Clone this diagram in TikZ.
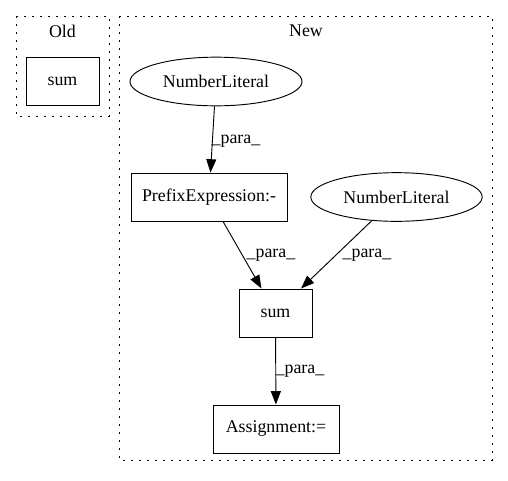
\documentclass[tikz,border=0pt]{standalone}
\usepackage{fontspec}
\setmainfont{Liberation Serif}
\usetikzlibrary{arrows.meta,shapes.geometric}
\begin{document}
\begin{tikzpicture}[x=0.75pt,y=-0.75pt,
  every node/.style={font=\fontsize{13.4pt}{15pt}\selectfont, inner sep=0pt},
  cluster/.style={draw, line width=0.7pt, dash pattern=on 1.2pt off 4.8pt},
  box/.style={draw, rectangle, line width=0.7pt, minimum height=36pt},
  oval/.style={draw, ellipse, line width=0.7pt, minimum height=36.5pt},
  edge/.style={draw, line width=0.7pt, -{Triangle[length=10pt,width=7.5pt]}},
  lbl/.style={}]
\useasboundingbox (0,0) rectangle (508,480);
\draw[cluster] (16,16) rectangle (109,116);
\draw[cluster] (119,16) rectangle (492,460);
\node[lbl] (oldlbl) at (62.5,31) {Old};
\node[lbl] (newlbl) at (306,31) {New};
\node[box, minimum width=54.75pt] (oldsum) at (62.5,81) {sum};
\node[oval, minimum width=129pt] (nl1) at (216,81.5) {NumberLiteral};
\node[box, minimum width=117pt] (prefix) at (209,197) {PrefixExpression:-};
\node[oval, minimum width=128.5pt] (nl2) at (396.5,197) {NumberLiteral};
\node[box, minimum width=54.75pt] (sum) at (275.5,313) {sum};
\node[box, minimum width=94.5pt] (assign) at (276,429) {Assignment:=};
\draw[edge] (nl1) -- (prefix);
\draw[edge] (prefix) -- (sum);
\draw[edge] (nl2) -- (sum);
\draw[edge] (sum) -- (assign);
\node[lbl] (l1) at (236,141) {\_para\_};
\node[lbl] (l2) at (271,255) {\_para\_};
\node[lbl] (l3) at (367,255) {\_para\_};
\node[lbl] (l4) at (300,371) {\_para\_};
\end{tikzpicture}
\end{document}
